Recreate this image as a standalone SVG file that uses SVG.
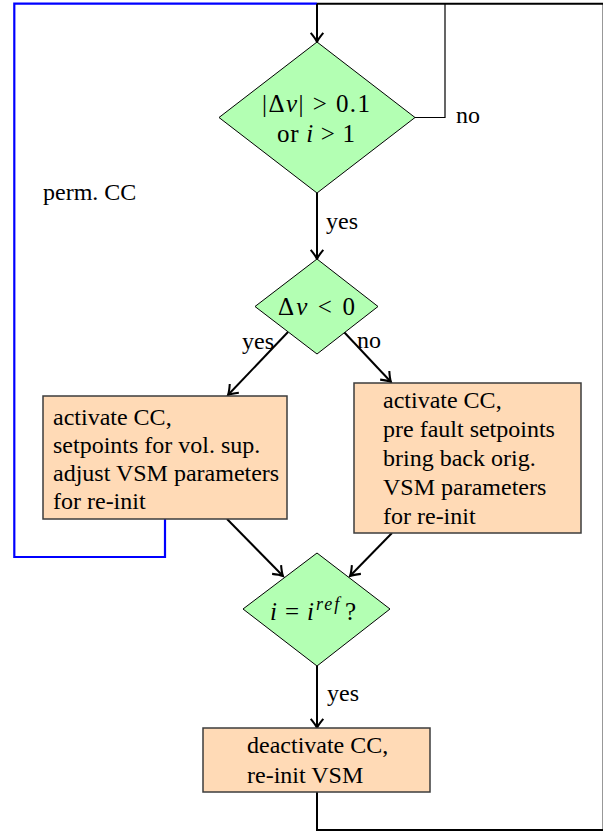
<svg xmlns="http://www.w3.org/2000/svg" width="603" height="832" viewBox="0 0 603 832">
  <style>
    .txt { font-family: 'Liberation Serif', 'Times New Roman', Times, 'DejaVu Serif', serif; font-size: 24px; fill: #000; }
    .math { font-family: 'Liberation Serif', 'Times New Roman', Times, 'DejaVu Serif', serif; font-size: 25px; fill: #000; }
    .it { font-style: italic; }
    .decision { fill: #b3ffb3; stroke: #000; stroke-width: 1; }
    .process { fill: #ffdab6; stroke: #3c3c3c; stroke-width: 1.5; }
    .edge { fill: none; stroke: #000; stroke-width: 2; }
    .thin { fill: none; stroke: #000; stroke-width: 1.2; }
    .loop { fill: none; stroke: #0000ff; stroke-width: 2.2; }
  </style>
  <defs>
    <marker id="arrow" markerUnits="userSpaceOnUse" markerWidth="16" markerHeight="16" viewBox="-9 -7 11 14" refX="0" refY="0" orient="auto">
      <path d="M -8,-5.5 Q -3,-1.3 0,0 Q -3,1.3 -8,5.5" fill="none" stroke="#000" stroke-width="1.8"/>
    </marker>
  </defs>

  <rect width="603" height="832" fill="#fff"/>

  <!-- connectors -->
  <g id="connectors">
    <!-- permanent CC loop back to the start -->
    <path class="loop" d="M 165,519 V 557 H 14.3 V 3.7 H 317"/>
    <!-- "no" loop from the first decision -->
    <path class="thin" d="M 415,117.5 H 445 V 3.7"/>
    <!-- return path from the final box -->
    <path class="edge" d="M 317,792 V 830 H 603.6 V 3.7 H 317"/>
    <!-- entry arrow into the first decision -->
    <path class="edge" d="M 317,3.7 V 42" marker-end="url(#arrow)"/>
    <path class="edge" d="M 317,193 V 259" marker-end="url(#arrow)"/>
    <path class="edge" d="M 288,332 L 228,395" marker-end="url(#arrow)"/>
    <path class="edge" d="M 344,332 L 391,382" marker-end="url(#arrow)"/>
    <path class="edge" d="M 227,519 L 283,576" marker-end="url(#arrow)"/>
    <path class="edge" d="M 392,533 L 350,576" marker-end="url(#arrow)"/>
    <path class="edge" d="M 317,666 V 728" marker-end="url(#arrow)"/>
  </g>

  <!-- edge labels -->
  <g id="labels">
    <text class="txt" x="456" y="123">no</text>
    <text class="txt" x="43" y="200">perm. CC</text>
    <text class="txt" x="326" y="229">yes</text>
    <text class="txt" x="242" y="349">yes</text>
    <text class="txt" x="357" y="348">no</text>
    <text class="txt" x="327" y="701">yes</text>
  </g>

  <!-- first decision -->
  <g id="check-deviation">
    <polygon class="decision" points="317,42 415,117.5 317,193 219,117.5"/>
    <text class="math" x="262" y="112" textLength="108" lengthAdjust="spacing">|Δ<tspan class="it">v</tspan>| &gt; 0.1</text>
    <text class="math" x="277" y="142" textLength="78" lengthAdjust="spacing">or <tspan class="it">i</tspan> &gt; 1</text>
  </g>

  <!-- sign decision -->
  <g id="check-sign">
    <polygon class="decision" points="317,259 378,306.5 317,354 255,306.5"/>
    <text class="math" x="278" y="315" textLength="77" lengthAdjust="spacing">Δ<tspan class="it">v</tspan> &lt; 0</text>
  </g>

  <!-- voltage support branch -->
  <g id="voltage-support">
    <rect class="process" x="43" y="396" width="244" height="123"/>
    <text class="txt" x="53" y="425">activate CC,</text>
    <text class="txt" x="53" y="453">setpoints for vol. sup.</text>
    <text class="txt" x="53" y="481">adjust VSM parameters</text>
    <text class="txt" x="53" y="509">for re-init</text>
  </g>

  <!-- pre-fault branch -->
  <g id="pre-fault">
    <rect class="process" x="354" y="383" width="227" height="150"/>
    <text class="txt" x="383" y="408">activate CC,</text>
    <text class="txt" x="383" y="437">pre fault setpoints</text>
    <text class="txt" x="383" y="466">bring back orig.</text>
    <text class="txt" x="383" y="495">VSM parameters</text>
    <text class="txt" x="383" y="524">for re-init</text>
  </g>

  <!-- reference current decision -->
  <g id="check-reference">
    <polygon class="decision" points="317,553 390,609 317,666 243,609"/>
    <text class="math" y="620"><tspan class="it" x="270">i</tspan><tspan x="285">=</tspan><tspan class="it" x="307">i</tspan><tspan class="it" font-size="18" x="316" dy="-10" letter-spacing="2">ref</tspan><tspan x="345" dy="10">?</tspan></text>
  </g>

  <!-- deactivation -->
  <g id="deactivate">
    <rect class="process" x="203" y="728" width="227" height="64"/>
    <text class="txt" x="247" y="753">deactivate CC,</text>
    <text class="txt" x="247" y="783">re-init VSM</text>
  </g>
</svg>
